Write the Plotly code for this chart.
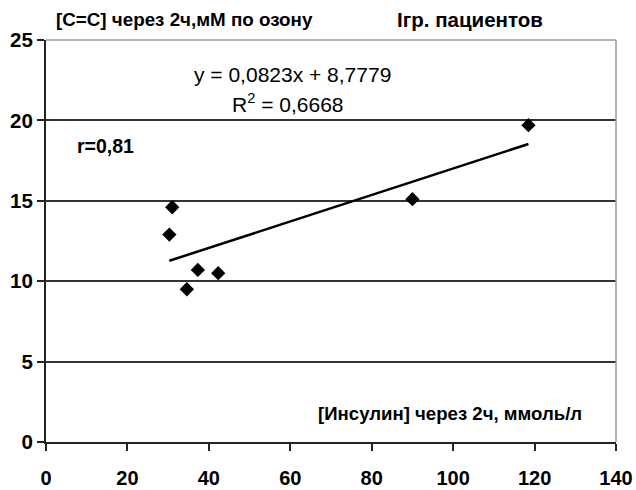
import plotly.graph_objects as go

# Data
insulin = [30.3, 31.0, 34.6, 37.3, 42.3, 90.0, 118.5]
cc_ozone = [12.9, 14.6, 9.5, 10.7, 10.5, 15.1, 19.7]

slope = 0.0823
intercept = 8.7779

x_ticks = [0, 20, 40, 60, 80, 100, 120, 140]
y_ticks = [0, 5, 10, 15, 20, 25]

x_min, x_max = min(insulin), max(insulin)
trend_x = [x_min, x_max]
trend_y = [slope * v + intercept for v in trend_x]

NARROW = "Liberation Sans Narrow, Arial Narrow, Liberation Sans, Arial, sans-serif"
ARIAL = "Liberation Sans, Arial, sans-serif"

fig = go.Figure()
fig.add_trace(go.Scatter(
    x=trend_x, y=trend_y, mode="lines",
    line=dict(color="black", width=2.5), hoverinfo="skip", showlegend=False))
fig.add_trace(go.Scatter(
    x=insulin, y=cc_ozone, mode="markers",
    marker=dict(symbol="diamond", size=11, color="black"),
    showlegend=False))

fig.update_layout(
    width=636, height=490,
    margin=dict(l=46, r=20, t=40, b=48, autoexpand=False),
    paper_bgcolor="white", plot_bgcolor="white",
    font=dict(family=ARIAL, color="black"),
    xaxis=dict(
        range=[0, 140], tickvals=x_ticks, ticks="outside", ticklen=7, tickwidth=1.5,
        tickcolor="#222", showline=True, linecolor="#222", linewidth=2,
        showgrid=False, zeroline=False, automargin=False,
        tickfont=dict(family=NARROW, size=20, weight="bold"),
        ticklabelstandoff=10),
    yaxis=dict(
        range=[0, 25], tickvals=y_ticks, ticks="outside", ticklen=7, tickwidth=1.5,
        tickcolor="#222", showline=True, linecolor="#222", linewidth=2,
        showgrid=True, gridcolor="#333", gridwidth=1.5, zeroline=False,
        automargin=False,
        tickfont=dict(family=NARROW, size=20.5, weight="bold"),
        ticklabelstandoff=0),
    shapes=[
        dict(type="line", xref="paper", yref="paper", x0=0, x1=1, y0=1, y1=1,
             line=dict(color="#9a9a9a", width=1.5), layer="above"),
        dict(type="line", xref="paper", yref="paper", x0=1, x1=1, y0=0, y1=1,
             line=dict(color="#9a9a9a", width=1.5), layer="above"),
    ],
    annotations=[
        dict(text="[C=C] через 2ч,мМ по озону", xref="paper", yref="paper",
             x=0.014, y=1.052, xanchor="left", yanchor="middle", showarrow=False,
             font=dict(family=NARROW, size=18.8, weight="bold")),
        dict(text="Iгр. пациентов", xref="paper", yref="paper",
             x=0.612, y=1.052, xanchor="left", yanchor="middle", showarrow=False,
             font=dict(family=ARIAL, size=20.5, weight="bold")),
        dict(text="y = 0,0823x + 8,7779", xref="paper", yref="paper",
             x=0.4325, y=0.913, xanchor="center", yanchor="middle", showarrow=False,
             font=dict(family=ARIAL, size=21)),
        dict(text="R<sup>2</sup> = 0,6668", xref="paper", yref="paper",
             x=0.4237, y=0.843, xanchor="center", yanchor="middle", showarrow=False,
             font=dict(family=ARIAL, size=21)),
        dict(text="r=0,81", xref="paper", yref="paper",
             x=0.051, y=0.736, xanchor="left", yanchor="middle", showarrow=False,
             font=dict(family=ARIAL, size=19.5, weight="bold")),
        dict(text="[Инсулин] через 2ч, ммоль/л", xref="paper", yref="paper",
             x=0.944, y=0.07, xanchor="right", yanchor="middle", showarrow=False,
             font=dict(family=NARROW, size=18.6, weight="bold")),
    ],
)

fig.write_html("out.html")
